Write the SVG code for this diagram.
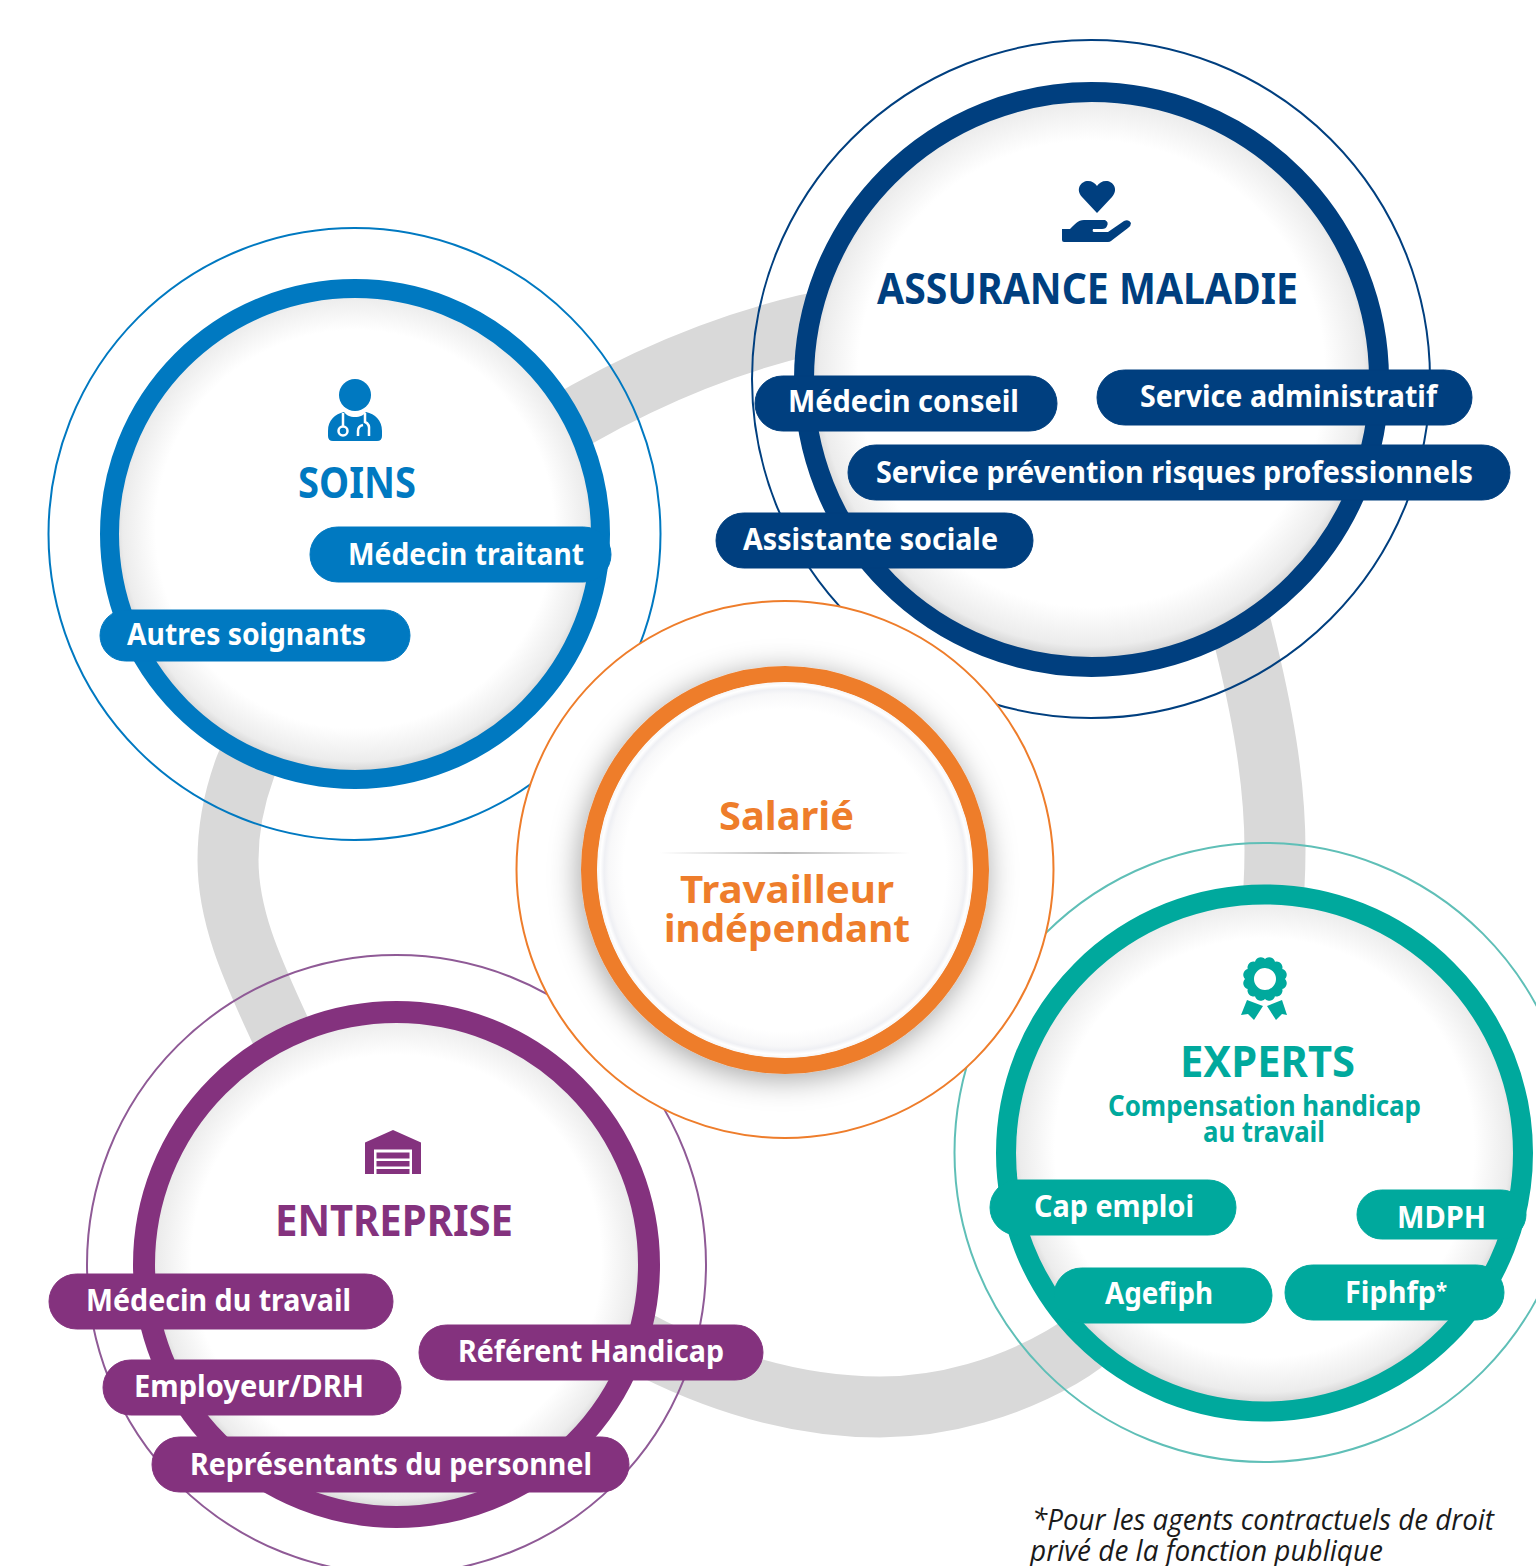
<svg xmlns="http://www.w3.org/2000/svg" width="1536" height="1566" viewBox="0 0 1536 1566">
<defs>
<radialGradient id="inset" cx="0.5" cy="0.49" r="0.52"><stop offset="0.78" stop-color="#fff"/><stop offset="0.91" stop-color="#ececec"/><stop offset="1" stop-color="#b8b8b8"/></radialGradient>
<radialGradient id="insetC" cx="0.5" cy="0.5" r="0.5"><stop offset="0.86" stop-color="#fff"/><stop offset="0.94" stop-color="#f8f8f9"/><stop offset="0.965" stop-color="#eff0f4"/><stop offset="0.985" stop-color="#fff"/><stop offset="1" stop-color="#f6f6f6"/></radialGradient>
<linearGradient id="rule"><stop offset="0" stop-color="#bbb" stop-opacity="0"/><stop offset="0.5" stop-color="#bbb"/><stop offset="1" stop-color="#bbb" stop-opacity="0"/></linearGradient>
<filter id="soft" x="-30%" y="-30%" width="160%" height="160%"><feDropShadow dx="-2" dy="5" stdDeviation="15" flood-color="#000" flood-opacity="0.36"/></filter>
</defs>
<style>
text{font-family:"Noto Sans","Open Sans","Liberation Sans",sans-serif;font-weight:700}
.p{font-size:31px;fill:#fff}
.t{font-size:43px}
.thin{fill:none;stroke-width:2}
.navy{fill:#003f7f;stroke:#003f7f}.blue{fill:#0079c1;stroke:#0079c1}.teal{fill:#00a99d;stroke:#00a99d}.purple{fill:#84327e;stroke:#84327e}.orange{fill:#ee7d2b;stroke:#ee7d2b}
text.navy,text.blue,text.teal,text.purple,text.orange,path.i,circle.i{stroke:none}
text.note{font-family:"Open Sans","Noto Sans",sans-serif;font-size:29px;font-weight:400;font-style:italic;fill:#1a1a1a}
</style>
<g id="connectors"><path d="M520 452Q660 360 806 325C1000 280 1200 460 1243 634C1262 710 1275 780 1275 850C1275 1050 1180 1290 1062 1357C1010 1387 945 1407 880 1407C800 1407 725 1385 653 1349C500 1272 330 1140 280 1030C255 975 228 920 228 860C228 828 234 798 245 768C290 650 400 530 520 452Z" fill="none" stroke="#d9d9d9" stroke-width="61"/></g>

<g id="soins">
<circle class="thin" cx="354.500" cy="534" r="306" stroke="#0079c1"/>
<circle cx="355" cy="534" r="245.500" fill="url(#inset)" stroke="#0079c1" stroke-width="19"/>
<circle class="blue i" cx="355" cy="395" r="16"/>
<path class="blue i" d="M328 431C328 420 335 414 344 412C346 415 350 417 355 417C360 417 364 415 366 412C375 414 382 420 382 431V436Q382 441 377 441H333Q328 441 328 436Z"/>
<path d="M343 413V426M365 413V422Q370 424 369 431V436M358 436V431Q358 426 363 425" fill="none" stroke="#fff" stroke-width="2.500"/>
<circle cx="343" cy="431" r="4.500" fill="none" stroke="#fff" stroke-width="2.500"/>
<text class="t blue" x="298" y="498" textLength="118" lengthAdjust="spacingAndGlyphs">SOINS</text>
<rect class="blue" x="310" y="527" width="301" height="55" rx="27.500"/>
<text class="p" x="348" y="565" textLength="236" lengthAdjust="spacingAndGlyphs">Médecin traitant</text>
<rect class="blue" x="100" y="610" width="310" height="51" rx="25.500"/>
<text class="p" x="127" y="645" textLength="239" lengthAdjust="spacingAndGlyphs">Autres soignants</text>
</g>

<g id="assurance-maladie">
<circle class="thin" cx="1091" cy="379" r="339" stroke="#003f7f"/>
<circle cx="1091.500" cy="379.500" r="287.500" fill="url(#inset)" stroke="#003f7f" stroke-width="20"/>
<path class="navy i" d="M1097 213L1082 197C1075 189 1081 181 1088 181C1092 181 1095 183 1097 186C1099 183 1102 181 1106 181C1113 181 1119 189 1112 197Z"/>
<path class="navy i" d="M1062 229H1070C1074 225 1078 220 1084 220H1105Q1109 222 1107 226Q1106 229 1102 229H1093Q1092 232 1094 232H1108L1124 221Q1129 219 1131 223Q1131 226 1128 228L1111 241Q1110 242 1108 242H1064Q1062 242 1062 240Z"/>
<text class="t navy" x="877" y="304" textLength="421" lengthAdjust="spacingAndGlyphs">ASSURANCE MALADIE</text>
<rect class="navy" x="755" y="376" width="302" height="55" rx="27.500"/>
<text class="p" x="788" y="412" textLength="231" lengthAdjust="spacingAndGlyphs">Médecin conseil</text>
<rect class="navy" x="1097" y="370" width="375" height="55" rx="27.500"/>
<text class="p" x="1140" y="407" textLength="297" lengthAdjust="spacingAndGlyphs">Service administratif</text>
<rect class="navy" x="848" y="445" width="662" height="55" rx="27.500"/>
<text class="p" x="876" y="483" textLength="597" lengthAdjust="spacingAndGlyphs">Service prévention risques professionnels</text>
<rect class="navy" x="716" y="513" width="317" height="55" rx="27.500"/>
<text class="p" x="743" y="550" textLength="255" lengthAdjust="spacingAndGlyphs">Assistante sociale</text>
</g>

<g id="entreprise">
<circle class="thin" cx="396.500" cy="1264.500" r="309.500" stroke="#8f5a96"/>
<circle cx="396.500" cy="1264.500" r="252.500" fill="url(#inset)" stroke="#84327e" stroke-width="22"/>
<path class="purple i" fill-rule="evenodd" d="M365 1142.500L393 1130L421 1142.500V1174H412V1149.500H374V1174H365ZM376.500 1152.500H409.500V1158.500H376.500ZM376.500 1161H409.500V1166.500H376.500ZM376.500 1169H409.500V1174H376.500Z"/>
<text class="t purple" x="275" y="1236" textLength="238" lengthAdjust="spacingAndGlyphs">ENTREPRISE</text>
<rect class="purple" x="49" y="1274" width="344" height="55" rx="27.500"/>
<text class="p" x="86" y="1311" textLength="265" lengthAdjust="spacingAndGlyphs">Médecin du travail</text>
<rect class="purple" x="103" y="1360" width="298" height="55" rx="27.500"/>
<text class="p" x="134" y="1397" textLength="230" lengthAdjust="spacingAndGlyphs">Employeur/DRH</text>
<rect class="purple" x="419" y="1325" width="344" height="55" rx="27.500"/>
<text class="p" x="458" y="1362" textLength="266" lengthAdjust="spacingAndGlyphs">Référent Handicap</text>
<rect class="purple" x="152" y="1437" width="477" height="55" rx="27.500"/>
<text class="p" x="190" y="1475" textLength="402" lengthAdjust="spacingAndGlyphs">Représentants du personnel</text>
</g>

<g id="experts">
<circle class="thin" cx="1264" cy="1152.500" r="309.500" stroke="#5fbfb7"/>
<circle cx="1264.500" cy="1153" r="258.500" fill="url(#inset)" stroke="#00a99d" stroke-width="20"/>
<path class="teal i" fill-rule="evenodd" d="M1265 959A6 6 0 0 1 1275 961.700A6 6 0 0 1 1282.300 969A6 6 0 0 1 1285 979A6 6 0 0 1 1282.300 989A6 6 0 0 1 1275 996.300A6 6 0 0 1 1265 999A6 6 0 0 1 1255 996.300A6 6 0 0 1 1247.700 989A6 6 0 0 1 1245 979A6 6 0 0 1 1247.700 969A6 6 0 0 1 1255 961.700A6 6 0 0 1 1265 959ZM1265 968A11 11 0 1 0 1265 990A11 11 0 1 0 1265 968Z"/>
<path class="teal i" d="M1247 1000L1263 1006L1254 1020L1248 1014L1241 1015ZM1282 1000L1267 1006L1276 1020L1282 1014L1287 1015Z"/>
<text class="t teal" x="1180" y="1077" textLength="175" lengthAdjust="spacingAndGlyphs">EXPERTS</text>
<text class="teal" font-size="28" x="1108" y="1116" textLength="313" lengthAdjust="spacingAndGlyphs">Compensation handicap</text>
<text class="teal" font-size="28" x="1203" y="1142" textLength="122" lengthAdjust="spacingAndGlyphs">au travail</text>
<rect class="teal" x="990" y="1180" width="246" height="55" rx="27.500"/>
<text class="p" x="1034" y="1217" textLength="160" lengthAdjust="spacingAndGlyphs">Cap emploi</text>
<rect class="teal" x="1357" y="1190" width="169" height="49" rx="24.500"/>
<text class="p" x="1397" y="1228" textLength="89" lengthAdjust="spacingAndGlyphs">MDPH</text>
<rect class="teal" x="1054" y="1268" width="218" height="55" rx="27.500"/>
<text class="p" x="1105" y="1304" textLength="108" lengthAdjust="spacingAndGlyphs">Agefiph</text>
<rect class="teal" x="1285" y="1265" width="219" height="55" rx="27.500"/>
<text class="p" x="1345" y="1303" textLength="102" lengthAdjust="spacingAndGlyphs">Fiphfp<tspan font-size="22" dy="-5">*</tspan></text>
</g>

<g id="salarie">
<circle cx="785" cy="869.500" r="268.500" fill="#fff" stroke="#ee7d2b" stroke-width="2"/>
<circle cx="785" cy="870" r="196" fill="#fff" stroke="#ee7d2b" stroke-width="16" filter="url(#soft)"/>
<circle cx="785" cy="870" r="187.500" fill="url(#insetC)"/>
<text class="orange" font-size="39" x="719" y="830" textLength="135" lengthAdjust="spacingAndGlyphs">Salarié</text>
<rect x="660" y="852" width="250" height="2" fill="url(#rule)"/>
<text class="orange" font-size="38" x="680" y="903" textLength="214" lengthAdjust="spacingAndGlyphs">Travailleur</text>
<text class="orange" font-size="38" x="664" y="942" textLength="246" lengthAdjust="spacingAndGlyphs">indépendant</text>
</g>

<g id="footnote">
<text class="note" x="1032" y="1530" textLength="462" lengthAdjust="spacingAndGlyphs">*Pour les agents contractuels de droit</text>
<text class="note" x="1030" y="1561" textLength="353" lengthAdjust="spacingAndGlyphs">privé de la fonction publique</text>
</g>
</svg>
